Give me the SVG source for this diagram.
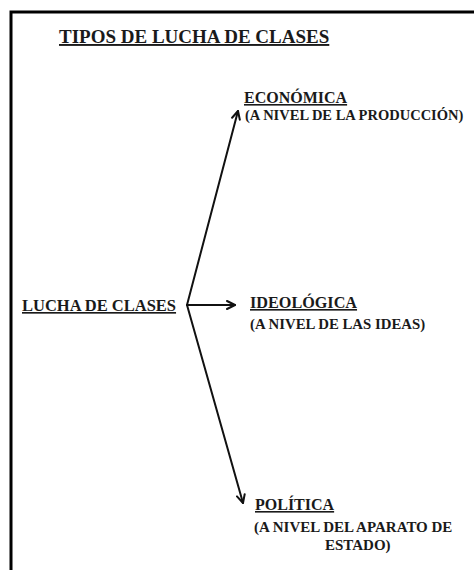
<svg xmlns="http://www.w3.org/2000/svg" width="474" height="570" viewBox="0 0 474 570">
<defs>
<style>
.t{font-family:'Liberation Serif',serif;font-weight:bold;fill:#1a1a1a;}
.u{text-decoration:underline;}
.ln{stroke:#111;stroke-width:2;fill:none;stroke-linecap:round;}
</style>
<marker id="ah" viewBox="0 0 10 10" refX="9" refY="5" markerWidth="10" markerHeight="10" markerUnits="userSpaceOnUse" orient="auto">
<path d="M1,1 L9,5 L1,9" fill="none" stroke="#111" stroke-width="2" stroke-linecap="round" stroke-linejoin="round"/>
</marker>
</defs>
<rect width="474" height="570" fill="#fff"/>
<g id="frame">
<path d="M11,570 L11,12 L474,12" fill="none" stroke="#000" stroke-width="3"/>
</g>
<g id="title"><text class="t u" font-size="19" x="59" y="43">TIPOS DE LUCHA DE CLASES</text></g>
<g id="lucha"><text class="t u" font-size="16.5" x="22" y="311">LUCHA DE CLASES</text></g>
<g id="economica">
<text class="t u" font-size="16" x="244" y="103">ECONÓMICA</text>
<text class="t" font-size="14.5" x="245" y="120">(A NIVEL DE LA PRODUCCIÓN)</text>
</g>
<g id="ideologica">
<text class="t u" font-size="16.2" x="250" y="308">IDEOLÓGICA</text>
<text class="t" font-size="14.8" x="250" y="329">(A NIVEL DE LAS IDEAS)</text>
</g>
<g id="politica">
<text class="t u" font-size="16" x="255" y="510">POLÍTICA</text>
<text class="t" font-size="15" x="254" y="532">(A NIVEL DEL APARATO DE</text>
<text class="t" font-size="15" x="325" y="550">ESTADO)</text>
</g>
<g id="connectors">
<line class="ln" x1="187" y1="305" x2="238" y2="111" marker-end="url(#ah)"/>
<line class="ln" x1="187" y1="305" x2="235" y2="305" marker-end="url(#ah)"/>
<line class="ln" x1="187" y1="305" x2="243" y2="503" marker-end="url(#ah)"/>
</g>
</svg>
